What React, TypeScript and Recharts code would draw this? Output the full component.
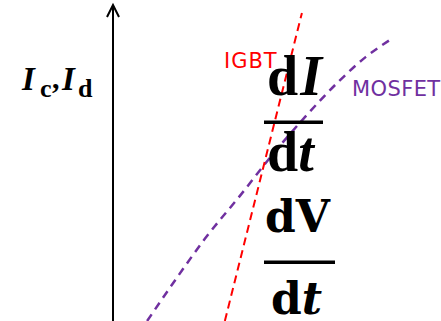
import { LineChart, Line, XAxis, YAxis, ReferenceLine } from 'recharts';

// switching current vs. time, arbitrary units (0-100 on both axes)
const igbtRise = [
  { x: 34.1, y: 0 },
  { x: 57.6, y: 97.5 },
];

const mosfetRise = [
  { x: 10.4, y: 0 },
  { x: 19, y: 13 },
  { x: 28, y: 26 },
  { x: 39, y: 40 },
  { x: 48.5, y: 52.5 },
  { x: 58.5, y: 64.5 },
  { x: 69, y: 76 },
  { x: 77, y: 83.5 },
  { x: 84.5, y: 89 },
];

const seriesNames = ['IGBT', 'MOSFET'];
const seriesColors = ['#FF0000', '#7030A0'];

const W = 441;
const H = 321;

function ArrowAxis(props: any) {
  const { x1, y1, x2, y2 } = props;
  const top = Math.min(y1, y2);
  const bottom = Math.max(y1, y2);
  const x = x1 ?? x2;
  return (
    <g stroke="#000" strokeWidth={2} fill="none">
      <line x1={x} y1={bottom} x2={x} y2={top} />
      <polyline points={`${x - 6},${top + 12} ${x},${top} ${x + 6},${top + 12}`} strokeLinejoin="miter" />
    </g>
  );
}

const serif = '"Liberation Serif", "Times New Roman", serif';
const slab = '"DejaVu Serif", serif';
const sans = '"DejaVu Sans", Verdana, sans-serif';

export default function App() {
  return (
    <div style={{ position: 'absolute', left: 0, top: 0, width: W, height: H, background: '#fff' }}>
      <LineChart width={W} height={H} margin={{ top: 5, right: 0, bottom: 0, left: 113 }}>
        <XAxis type="number" dataKey="x" domain={[0, 100]} hide allowDataOverflow />
        <YAxis type="number" dataKey="y" domain={[0, 100]} hide allowDataOverflow />
        <ReferenceLine x={0} shape={<ArrowAxis />} />
        <Line
          data={mosfetRise}
          dataKey="y"
          type="monotone"
          stroke={seriesColors[1]}
          strokeWidth={2.5}
          strokeDasharray="8 6"
          dot={false}
          isAnimationActive={false}
        />
        <Line
          data={igbtRise}
          dataKey="y"
          type="linear"
          stroke={seriesColors[0]}
          strokeWidth={2}
          strokeDasharray="8 5"
          dot={false}
          isAnimationActive={false}
        />
      </LineChart>

      <svg width={W} height={H} style={{ position: 'absolute', left: 0, top: 0, pointerEvents: 'none' }}>
        {/* y-axis label */}
        <text fontFamily={serif} fontWeight="bold" fill="#000">
          <tspan x={22} y={90} fontSize={33} fontStyle="italic">I</tspan>
          <tspan x={40} y={97} fontSize={26}>c</tspan>
          <tspan x={52} y={88} fontSize={30}>,</tspan>
          <tspan x={62} y={90} fontSize={33} fontStyle="italic">I</tspan>
          <tspan x={78} y={97} fontSize={26}>d</tspan>
        </text>

        {/* series names */}
        <text x={224} y={68} fontFamily={sans} fontSize={21} letterSpacing={1} fill={seriesColors[0]}>{seriesNames[0]}</text>
        <text x={352} y={96} fontFamily={sans} fontSize={21} letterSpacing={0.4} fill={seriesColors[1]}>{seriesNames[1]}</text>

        {/* dI/dt */}
        <text x={267} y={95} fontFamily={serif} fontWeight="bold" fontSize={56} fill="#000">
          d<tspan fontStyle="italic" dx={2}>I</tspan>
        </text>
        <rect x={264} y={120.5} width={59} height={3.5} fill="#000" />
        <text x={267} y={171} fontFamily={serif} fontWeight="bold" fontSize={56} fill="#000">
          d<tspan fontStyle="italic">t</tspan>
        </text>

        {/* dV/dt */}
        <text x={265} y={232} fontFamily={slab} fontWeight="bold" fontSize={44} fill="#000">dV</text>
        <rect x={264} y={260.5} width={71} height={3.5} fill="#000" />
        <text x={271} y={314} fontFamily={slab} fontWeight="bold" fontSize={44} fill="#000">
          d<tspan fontStyle="italic">t</tspan>
        </text>
      </svg>
    </div>
  );
}
